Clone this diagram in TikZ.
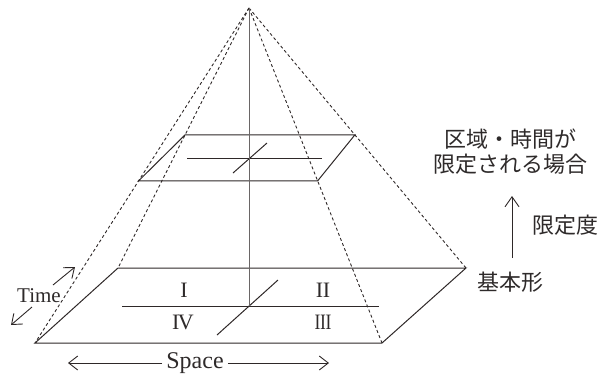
\documentclass[tikz,border=0pt]{standalone}
\usepackage{fontspec}
\setmainfont{Liberation Serif}
\newfontfamily\jpfont{Noto Sans CJK JP}
\usetikzlibrary{arrows.meta,calc}
\definecolor{ln}{HTML}{2E2828}
\definecolor{polec}{HTML}{6A6666}
\definecolor{txt}{HTML}{2E2A2A}
\begin{document}
\begin{tikzpicture}[x=1pt,y=-1pt,
  edge/.style={draw=ln, line width=1pt},
  dashedge/.style={draw=ln, line width=0.9pt, dash pattern=on 3pt off 2.5pt},
  poleline/.style={draw=polec, line width=0.9pt},
  arr/.style={draw=ln, line width=0.9pt, -{Straight Barb[length=9pt,width=14pt]}},
  lat/.style={text=txt, inner sep=0pt, font=\fontsize{24}{24}\selectfont},
  num/.style={text=txt, inner sep=0pt, font=\fontsize{22}{22}\selectfont},
  jp/.style={text=txt, inner sep=0pt, align=center, font=\jpfont\fontsize{22}{25}\selectfont}]
\useasboundingbox (0,0) rectangle (600,378);
% apex and base
\coordinate (A) at (249,8);
\coordinate (BL) at (35,343);
\coordinate (BR) at (382,343);
\coordinate (TR) at (466,268);
\coordinate (TL) at (118,268);
% dashed edges
\draw[dashedge] (A) -- (BL);
\draw[dashedge] (A) -- (TL);
\draw[dashedge] (A) -- (BR);
\draw[dashedge] (A) -- (TR);
% upper section
\coordinate (UTL) at ($(A)!0.488!(TL)$);
\coordinate (UTR) at ($(A)!0.488!(TR)$);
\coordinate (UBL) at ($(A)!0.516!(BL)$);
\coordinate (UBR) at ($(A)!0.516!(BR)$);
\draw[edge] (UTL) -- (UTR) -- (UBR) -- (UBL) -- cycle;
\coordinate (UM1) at (187,158);
\coordinate (UM2) at (322,158);
\draw[edge] (UM1) -- (UM2);
\coordinate (UD1) at (233,173);
\coordinate (UD2) at (267,143);
\draw[edge] (UD1) -- (UD2);
% base
\draw[edge] (BL) -- (BR) -- (TR) -- (TL) -- cycle;
\coordinate (M1) at (122,306);
\coordinate (M2) at (379,306);
\draw[edge] (M1) -- (M2);
\coordinate (D1) at (217,335);
\coordinate (D2) at (278,280);
\draw[edge] (D1) -- (D2);
% pole
\coordinate (P) at (249,306);
\draw[poleline] (A) -- (P);
% quadrant labels
\node[num] (q1) at (184,290) {I};
\node[num] (q2) at (323,290) {I\kern-0.5pt I};
\node[num] (q4) at (183,322) {I\kern-1.5pt V};
\node[num] (q3) at (323,322) {\scalebox{0.8}[1]{I\kern-0.5pt I\kern-0.5pt I}};
% Time arrow
\node[lat, font=\fontsize{21}{21}\selectfont] (time) at (39,296) {Time};
\coordinate (t1a) at (53,285);
\coordinate (t1b) at (75,267);
\coordinate (t2a) at (32,307);
\coordinate (t2b) at (11,325);
\draw[arr] (t1a) -- (t1b);
\draw[arr] (t2a) -- (t2b);
% Space arrow
\node[lat] (space) at (195,363) {Space};
\coordinate (s1) at (68,363);
\coordinate (s2) at (329,363);
\draw[arr] ([xshift=-4pt]space.west) -- (s1);
\draw[arr] ([xshift=4pt]space.east) -- (s2);
% right side
\node[jp] (lim) at (510,152) {区域・時間が\\限定される場合};
\node[jp] (base) at (510,282) {基本形};
\node[jp] (deg) at (565,225) {限定度};
\coordinate (ar1) at (512,258);
\coordinate (ar2) at (512,196);
\draw[arr, -{Straight Barb[length=10pt,width=14pt]}] (ar1) -- (ar2);
\end{tikzpicture}
\end{document}
